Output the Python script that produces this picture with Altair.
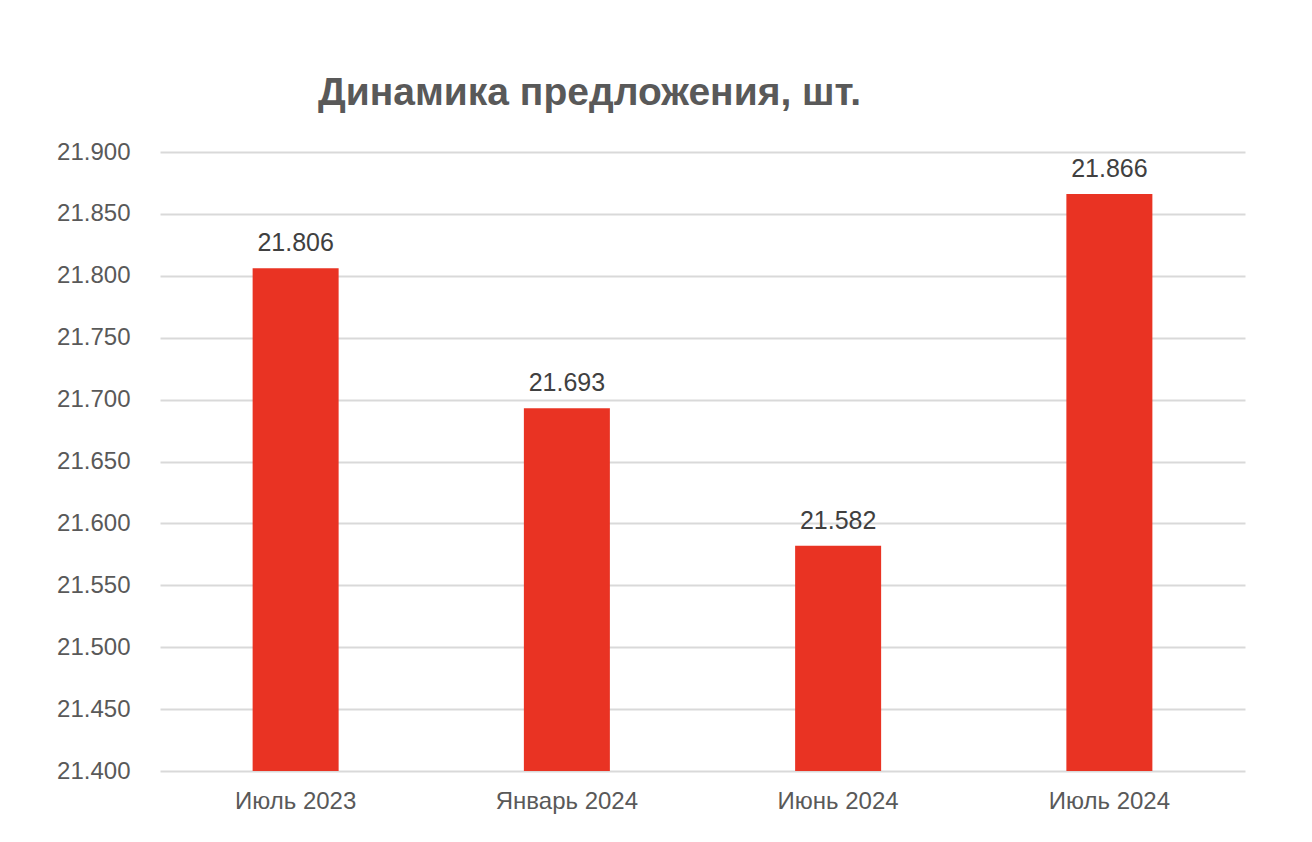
import altair as alt
import pandas as pd

categories = ["Июль 2023", "Январь 2024", "Июнь 2024", "Июль 2024"]
values = [21806, 21693, 21582, 21866]
base_value = 21400
y_ticks = [21400, 21450, 21500, 21550, 21600, 21650, 21700, 21750, 21800, 21850, 21900]

df = pd.DataFrame({"cat": categories, "val": values, "base": [base_value] * len(values)})
df["label"] = [f"{v:,}".replace(",", ".") for v in values]

FONT = "Liberation Sans"

x = alt.X("cat:N", sort=categories, title=None,
          scale=alt.Scale(paddingInner=0, paddingOuter=0),
          axis=alt.Axis(labelAngle=0, labelFontSize=24, labelColor="#595959",
                        labelFont=FONT, labelPadding=18, domain=False, ticks=False,
                        grid=False))
y = alt.Y("val:Q", title=None,
          scale=alt.Scale(domain=[21400, 21900], zero=False, nice=False),
          axis=alt.Axis(values=y_ticks, labelFontSize=24, labelColor="#595959",
                        labelFont=FONT, labelPadding=30, domain=False, ticks=False,
                        gridColor="#d9d9d9", gridWidth=2,
                        labelExpr="replace(format(datum.value, ',.0f'), ',', '.')"))

bars = alt.Chart(df).mark_bar(size=86, color="#E93323").encode(
    x=x, y=y, y2="base:Q"
)
text = alt.Chart(df).mark_text(baseline="bottom", dy=-12, fontSize=25,
                               font=FONT, color="#404040").encode(
    x=alt.X("cat:N", sort=categories), y="val:Q", text="label:N"
)

chart = (bars + text).properties(
    width=1085, height=619,
    title=alt.TitleParams("Динамика предложения, шт.", font=FONT, fontSize=39,
                          fontWeight="bold", color="#595959", anchor="start",
                          frame="group", dx=158, offset=27),
    autosize=alt.AutoSizeParams(type="none"),
    padding={"left": 160, "top": 152, "right": 67, "bottom": 71},
).configure(background="white", view=alt.ViewConfig(stroke=None))

chart.save("out.html", embed_options={"renderer": "svg", "actions": False})
